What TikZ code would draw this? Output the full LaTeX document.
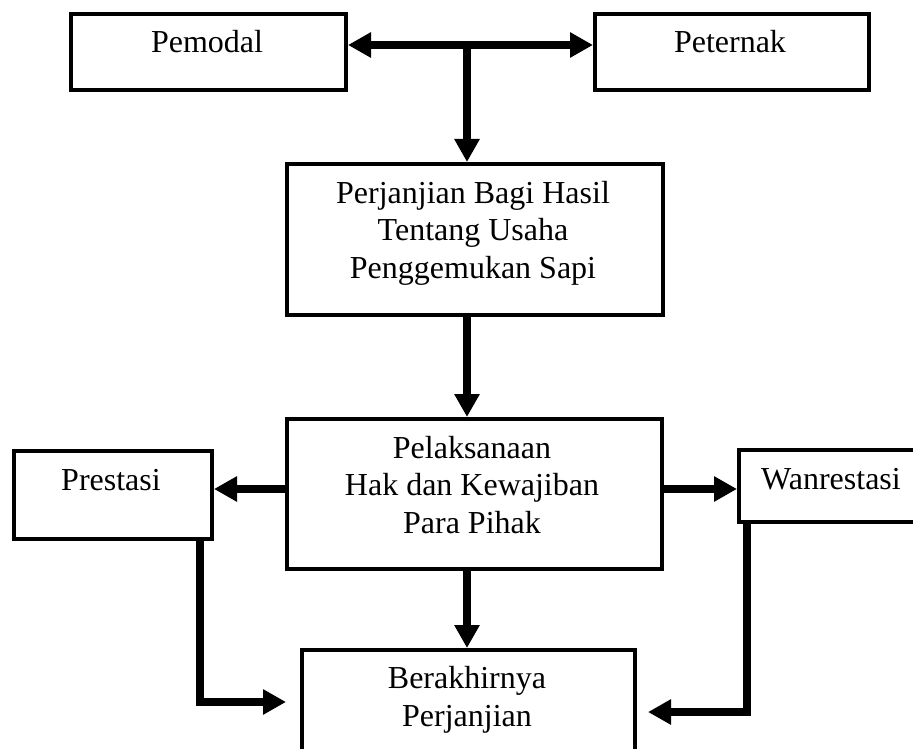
\documentclass[tikz,border=0pt]{standalone}
\usepackage{fontspec}
\setmainfont{Liberation Serif}
\usetikzlibrary{arrows.meta}
\tikzset{
  box/.style={draw=black, line width=4pt, rectangle, anchor=north west, inner sep=0pt},
  lbl/.style={anchor=base, align=center, inner sep=0pt, font=\fontsize{32pt}{37.5pt}\selectfont},
  conn/.style={line width=7.5pt, line join=miter, -{Triangle[length=23pt,width=24pt]}},
  conn2/.style={line width=7.5pt, line join=miter, {Triangle[length=23pt,width=24pt]}-{Triangle[length=23pt,width=24pt]}}
}
\begin{document}
\begin{tikzpicture}[x=1pt,y=-1pt]
\useasboundingbox (0,0) rectangle (913,749);
\clip (0,0) rectangle (913,749);
% boxes
\node[box, minimum width=275pt, minimum height=76pt] (pem) at (69,12) {};
\node[box, minimum width=274pt, minimum height=76pt] (pet) at (593,12) {};
\node[box, minimum width=376pt, minimum height=151pt] (perj) at (285,162) {};
\node[box, minimum width=375pt, minimum height=150pt] (pel) at (285,417) {};
\node[box, minimum width=198pt, minimum height=88pt] (pres) at (12,449) {};
\node[box, minimum width=188pt, minimum height=72pt] (wan) at (737,448) {};
\node[box, minimum width=333pt, minimum height=132pt] (ber) at (300,648) {};
% texts (anchor base = baseline of the last line)
\node[lbl] (tpem) at (207,53) {Pemodal};
\node[lbl] (tpet) at (730,53) {Peternak};
\node[lbl] (tperj) at (473,278) {Perjanjian Bagi Hasil\\Tentang Usaha\\Penggemukan Sapi};
\node[lbl] (tpel) at (472,533) {Pelaksanaan\\Hak dan Kewajiban\\Para Pihak};
\node[lbl] (tpres) at (111,490) {Prestasi};
\node[lbl] (twan) at (831,489) {Wanrestasi};
\node[lbl] (tber) at (467,726) {Berakhirnya\\Perjanjian};
% helper coordinates
\coordinate (j) at (467,45);
\coordinate (r) at (0,489);
\coordinate (pl) at (200,702);
\coordinate (tipl) at (286,702);
\coordinate (pr) at (747,712);
\coordinate (tipr) at (648,712);
% connectors
\draw[conn2] (pem.east |- j) -- (pet.west |- j);
\draw[conn] (j) -- (j |- perj.north);
\draw[conn] (perj.south -| j) -- (pel.north -| j);
\draw[conn] (pel.west |- r) -- (pres.east |- r);
\draw[conn] (pel.east |- r) -- (wan.west |- r);
\draw[conn] (pel.south -| j) -- (ber.north -| j);
\draw[conn] (pres.south -| pl) -- (pl) -- (tipl);
\draw[conn] (wan.south -| pr) -- (pr) -- (tipr);
\end{tikzpicture}
\end{document}
